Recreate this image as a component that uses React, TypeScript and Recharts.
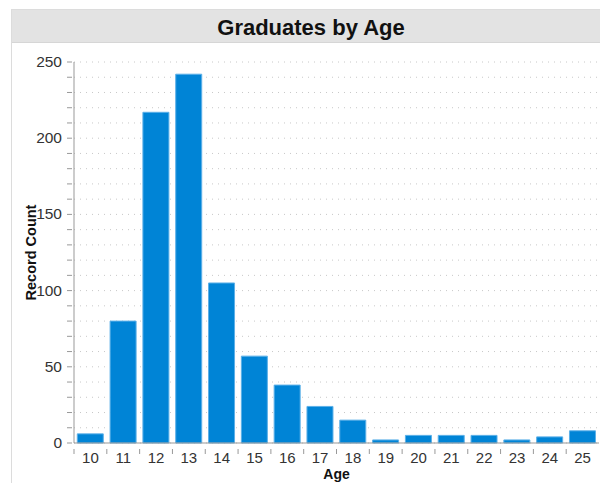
import React from 'react';
import { BarChart, Bar, XAxis, YAxis, CartesianGrid } from 'recharts';

const ages = ['10', '11', '12', '13', '14', '15', '16', '17', '18', '19', '20', '21', '22', '23', '24', '25'];
const counts = [6, 80, 217, 242, 105, 57, 38, 24, 15, 2, 5, 5, 5, 2, 4, 8];
const yTicks = [0, 10, 20, 30, 40, 50, 60, 70, 80, 90, 100, 110, 120, 130, 140, 150, 160, 170, 180, 190, 200, 210, 220, 230, 240, 250];
const yLabelEvery = 50;

const data = ages.map((a, i) => ({ age: a, count: counts[i] }));

const FONT = 'Liberation Sans, Arial, sans-serif';
const CHART_W = 600;
const CHART_H = 483;
const MARGIN = { top: 62, right: 1, bottom: 0, left: 0 };
const Y_W = 74;
const X_H = 40;
const PLOT_W = CHART_W - MARGIN.left - MARGIN.right - Y_W;
const BAND = PLOT_W / ages.length;

const YTick = (props: any) => {
  const { x, y, payload } = props;
  const v = payload.value;
  return (
    <g>
      <line x1={x + 1} x2={x + 6} y1={y} y2={y} stroke="#999" strokeWidth={1} />
      {v % yLabelEvery === 0 ? (
        <text x={x - 4} y={y} dy={5} textAnchor="end" fontSize={15.5} fill="#333" fontFamily={FONT}>
          {v}
        </text>
      ) : null}
    </g>
  );
};

const XTick = (props: any) => {
  const { x, y, payload } = props;
  const lx = x - BAND / 2;
  return (
    <g>
      <line x1={lx} x2={lx} y1={y - 2} y2={y + 3} stroke="#999" strokeWidth={1} />
      <text x={x} y={y} dy={12} textAnchor="middle" fontSize={15} fill="#333" fontFamily={FONT}>
        {payload.value}
      </text>
    </g>
  );
};

export default function App() {
  return (
    <div style={{ position: 'absolute', left: 0, top: 0, width: 600, height: 483, background: '#fff', overflow: 'hidden' }}>
      <div
        style={{
          position: 'absolute',
          left: 11,
          top: 9,
          width: 610,
          height: 480,
          border: '1px solid #dcdcdc',
          boxSizing: 'border-box',
        }}
      />
      <div
        style={{
          position: 'absolute',
          left: 12,
          top: 10,
          width: 598,
          height: 33,
          background: '#e3e3e3',
          borderBottom: '1px solid #d6d6d6',
          boxSizing: 'border-box',
          textAlign: 'center',
          lineHeight: '35px',
          fontFamily: FONT,
          fontWeight: 'bold',
          fontSize: 22,
          color: '#111',
        }}
      >
        Graduates by Age
      </div>
      <div style={{ position: 'absolute', left: 0, top: 0 }}>
        <BarChart width={CHART_W} height={CHART_H} data={data} margin={MARGIN} barCategoryGap="10%">
          <CartesianGrid vertical={false} stroke="#c8c8c8" strokeDasharray="1 5" />
          <XAxis
            dataKey="age"
            height={X_H}
            tick={<XTick />}
            tickLine={false}
            axisLine={{ stroke: '#999' }}
            interval={0}
            label={{ value: 'Age', position: 'insideBottom', offset: 4, fontSize: 14, fontWeight: 'bold', fill: '#111', fontFamily: FONT }}
          />
          <YAxis
            width={Y_W}
            domain={[0, 250]}
            ticks={yTicks}
            interval={0}
            tick={<YTick />}
            tickLine={false}
            axisLine={{ stroke: '#999' }}
            label={{ value: 'Record Count', angle: -90, position: 'insideLeft', offset: 31, fontSize: 14.5, fontWeight: 'bold', fill: '#111', fontFamily: FONT, style: { textAnchor: 'middle' } }}
          />
          <Bar dataKey="count" fill="#0084d6" stroke="#5cb0e8" strokeWidth={1} isAnimationActive={false} />
        </BarChart>
      </div>
    </div>
  );
}
